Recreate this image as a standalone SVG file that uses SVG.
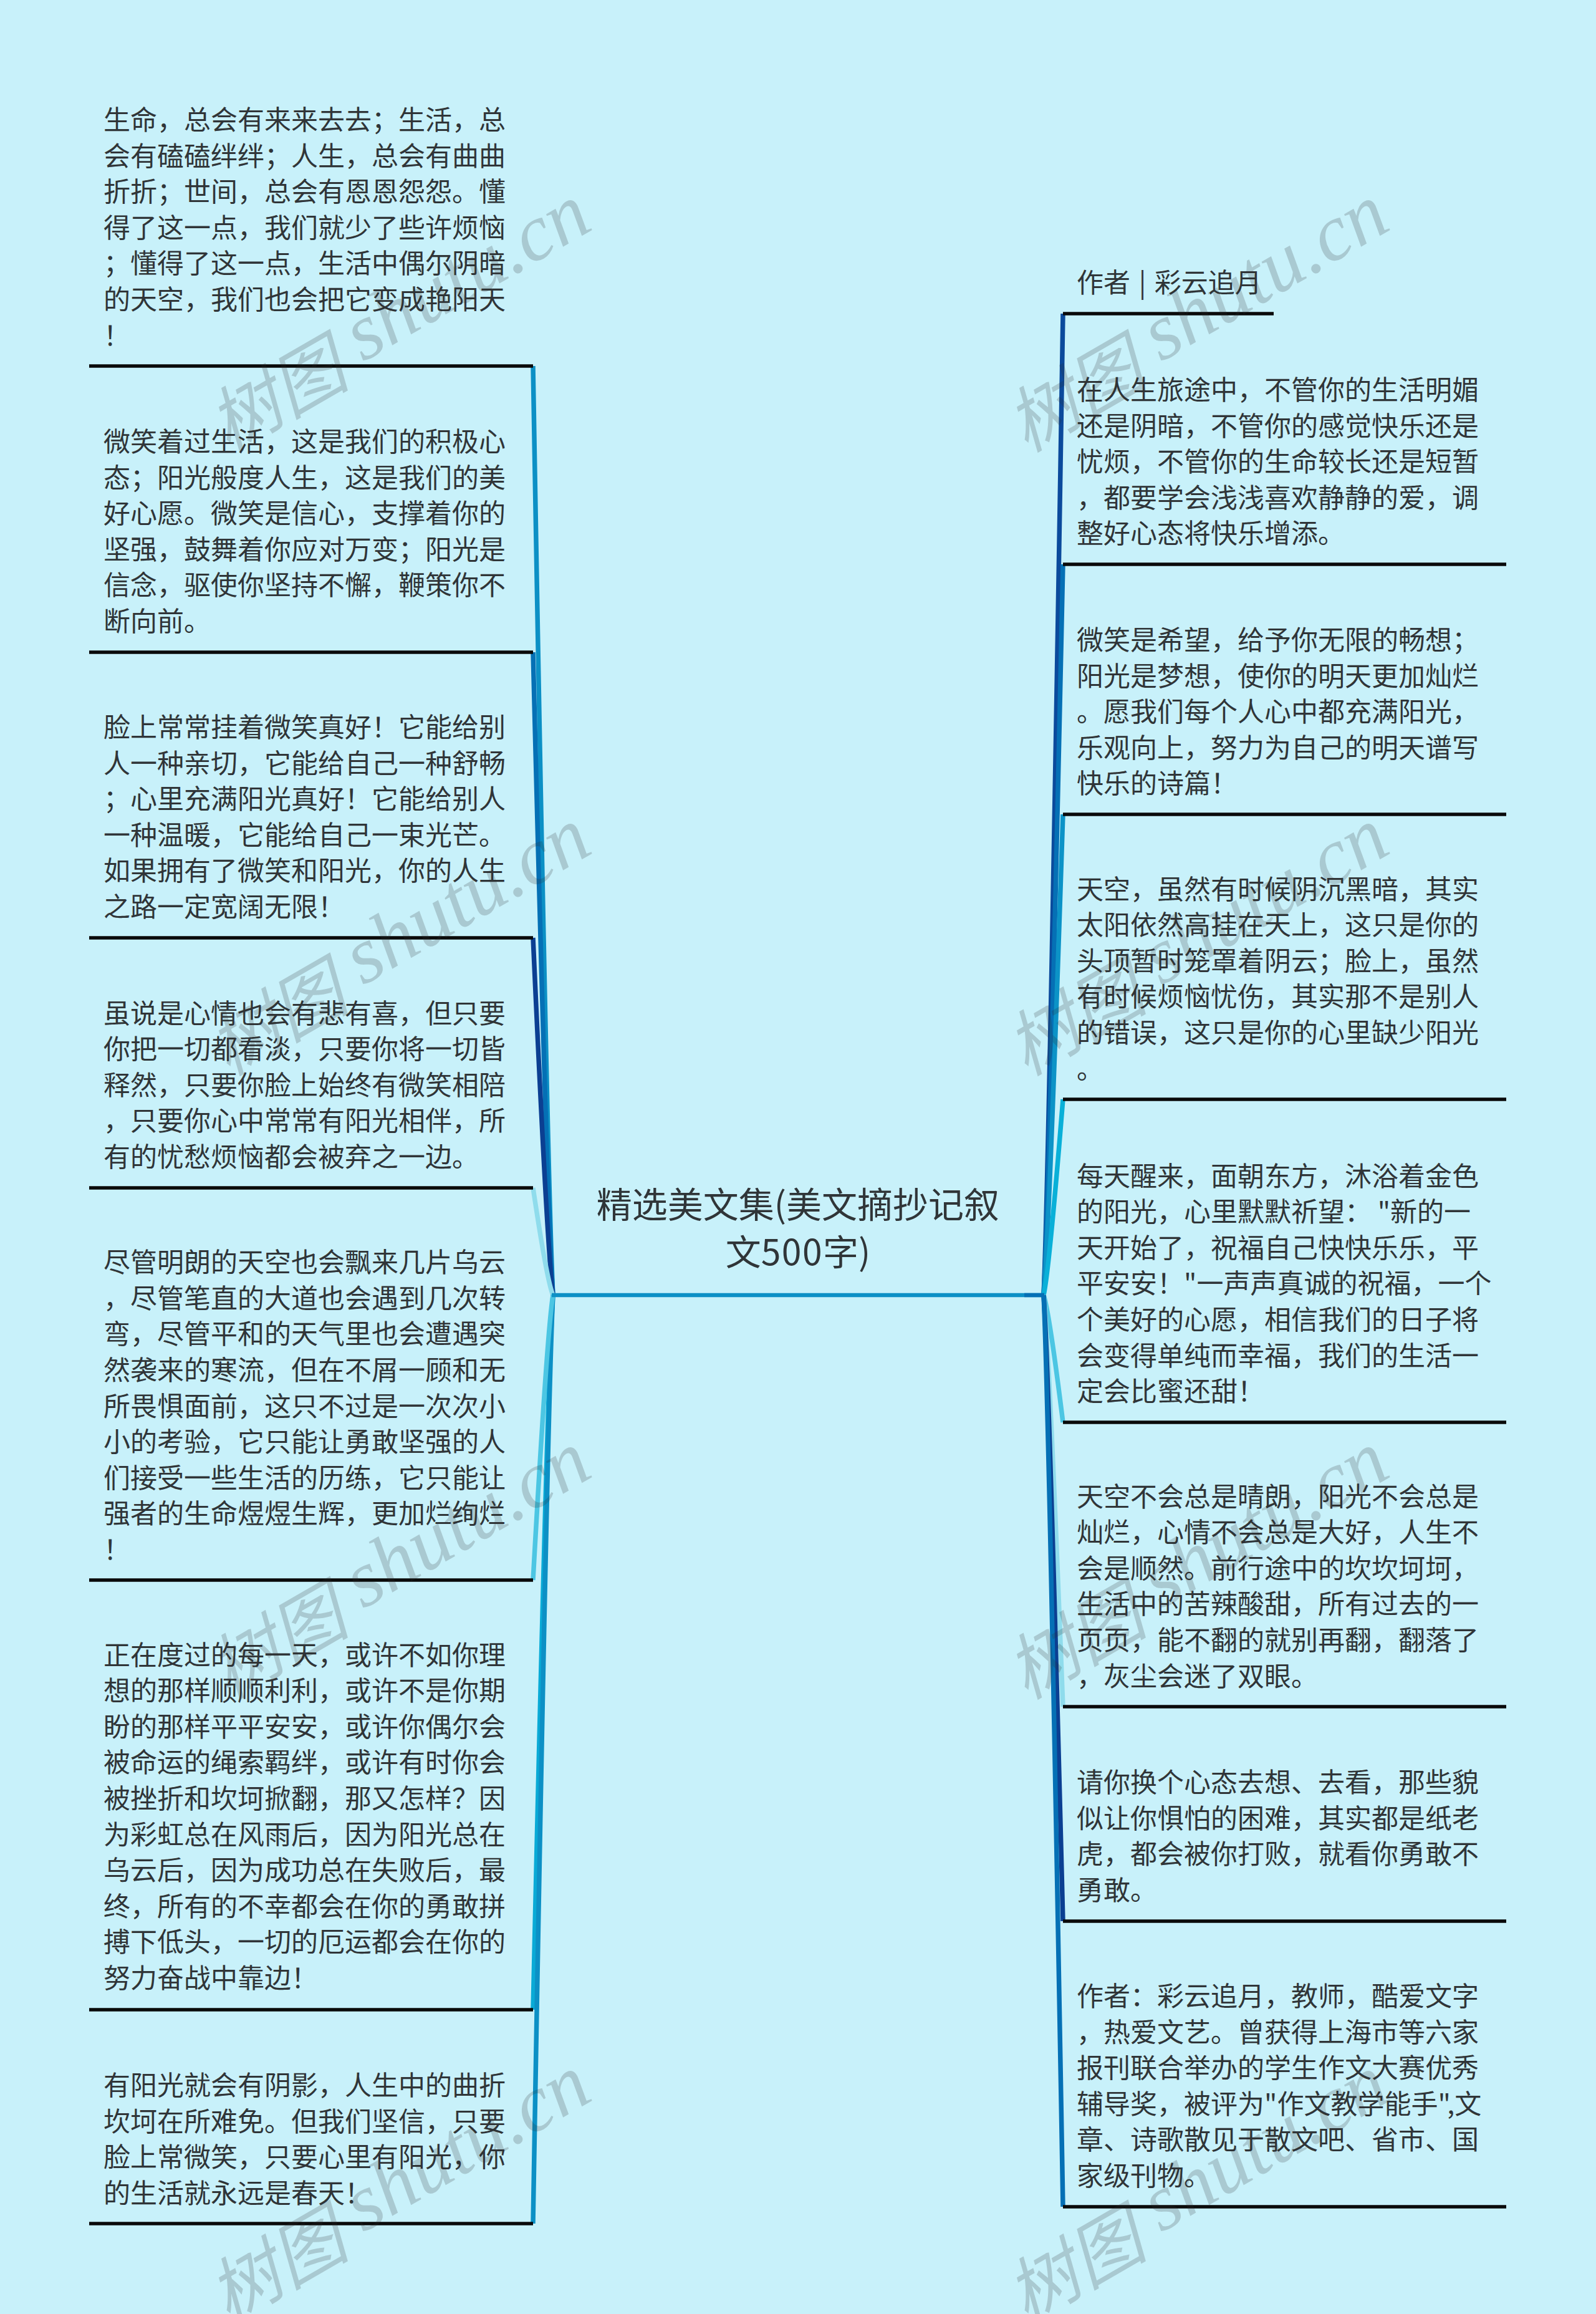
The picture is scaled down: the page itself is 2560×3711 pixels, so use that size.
<svg xmlns="http://www.w3.org/2000/svg" width="2560" height="3711" viewBox="0 0 2560 3711">
<style>
text{font-family:"Noto Sans CJK SC","Liberation Sans",sans-serif;}
.t{font-size:43px;fill:#303538;transform:translateY(-3px);}
.title{font-size:57px;fill:#303538;text-anchor:middle;}
.rule{stroke:#0a0a0a;stroke-width:5.5;fill:none;}
.c{fill:none;stroke-width:7.5;}
.wm{font-family:"Liberation Serif","Noto Sans CJK SC",serif;font-style:italic;font-size:128px;fill:#2e2e2e;fill-opacity:.2;}
.wm .z{font-size:114px;}
</style>
<rect width="2560" height="3711" fill="#c8f1fa"/>
<g id="connectors">
<path class="c" stroke="#0c90c5" d="M855 587Q877.4 1883 887 2077"/>
<path class="c" stroke="#0570b5" d="M855 1046Q877.4 1943 887 2077"/>
<path class="c" stroke="#0b3f92" d="M855 1504Q877.4 2002 887 2077"/>
<path class="c" stroke="#8fdcec" d="M855 1905Q877.4 2055 887 2077"/>
<path class="c" stroke="#09aad6" d="M855 3223Q877.4 2222 887 2077"/>
<path class="c" stroke="#0c90c5" d="M855 3566Q877.4 2271 887 2077"/>
<path class="c" stroke="#4cc6e3" d="M855 2534Q877.4 2136 887 2077"/>
<path class="c" stroke="#0b4a9c" d="M1705 503Q1683 1872 1674 2077"/>
<path class="c" stroke="#0570b5" d="M1705 905Q1683 1925 1674 2077"/>
<path class="c" stroke="#0c93c7" d="M1705 1306Q1683 1977 1674 2077"/>
<path class="c" stroke="#09b0d8" d="M1705 1763Q1683 2036 1674 2077"/>
<path class="c" stroke="#4cc6e3" d="M1705 2281Q1683 2104 1674 2077"/>
<path class="c" stroke="#8fdcec" d="M1705 2737Q1683 2163 1674 2077"/>
<path class="c" stroke="#0b3f92" d="M1705 3081Q1683 2208 1674 2077"/>
<path class="c" stroke="#0570b5" d="M1705 3539Q1683 2268 1674 2077"/>
<path d="M885 2077H1675" stroke="#0c90c5" stroke-width="6.5" fill="none"/>
<path d="M1643 2077H1675" stroke="#0570b5" stroke-width="6.5" fill="none"/>
</g>
<g id="root"><text class="title" x="1280" y="1953">精选美文集(美文摘抄记叙</text><text class="title" x="1280" y="2029">文<tspan letter-spacing="1.5">500</tspan>字)</text></g>
<g id="left-1"><path class="rule" d="M143 587H855"/><text class="t" x="166" y="211">生命，总会有来来去去；生活，总</text><text class="t" x="166" y="268.6">会有磕磕绊绊；人生，总会有曲曲</text><text class="t" x="166" y="326.2">折折；世间，总会有恩恩怨怨。懂</text><text class="t" x="166" y="383.8">得了这一点，我们就少了些许烦恼</text><text class="t" x="166" y="441.4">；懂得了这一点，生活中偶尔阴暗</text><text class="t" x="166" y="499">的天空，我们也会把它变成艳阳天</text><text class="t" x="166" y="556.6">！</text></g>
<g id="left-2"><path class="rule" d="M143 1046H855"/><text class="t" x="166" y="727">微笑着过生活，这是我们的积极心</text><text class="t" x="166" y="784.6">态；阳光般度人生，这是我们的美</text><text class="t" x="166" y="842.2">好心愿。微笑是信心，支撑着你的</text><text class="t" x="166" y="899.8">坚强，鼓舞着你应对万变；阳光是</text><text class="t" x="166" y="957.4">信念，驱使你坚持不懈，鞭策你不</text><text class="t" x="166" y="1015">断向前。</text></g>
<g id="left-3"><path class="rule" d="M143 1504H855"/><text class="t" x="166" y="1185">脸上常常挂着微笑真好！它能给别</text><text class="t" x="166" y="1242.6">人一种亲切，它能给自己一种舒畅</text><text class="t" x="166" y="1300.2">；心里充满阳光真好！它能给别人</text><text class="t" x="166" y="1357.8">一种温暖，它能给自己一束光芒。</text><text class="t" x="166" y="1415.4">如果拥有了微笑和阳光，你的人生</text><text class="t" x="166" y="1473">之路一定宽阔无限！</text></g>
<g id="left-4"><path class="rule" d="M143 1905H855"/><text class="t" x="166" y="1643.6">虽说是心情也会有悲有喜，但只要</text><text class="t" x="166" y="1701.2">你把一切都看淡，只要你将一切皆</text><text class="t" x="166" y="1758.8">释然，只要你脸上始终有微笑相陪</text><text class="t" x="166" y="1816.4">，只要你心中常常有阳光相伴，所</text><text class="t" x="166" y="1874">有的忧愁烦恼都会被弃之一边。</text></g>
<g id="left-5"><path class="rule" d="M143 2534H855"/><text class="t" x="166" y="2043.2">尽管明朗的天空也会飘来几片乌云</text><text class="t" x="166" y="2100.8">，尽管笔直的大道也会遇到几次转</text><text class="t" x="166" y="2158.4">弯，尽管平和的天气里也会遭遇突</text><text class="t" x="166" y="2216">然袭来的寒流，但在不屑一顾和无</text><text class="t" x="166" y="2273.6">所畏惧面前，这只不过是一次次小</text><text class="t" x="166" y="2331.2">小的考验，它只能让勇敢坚强的人</text><text class="t" x="166" y="2388.8">们接受一些生活的历练，它只能让</text><text class="t" x="166" y="2446.4">强者的生命煜煜生辉，更加烂绚烂</text><text class="t" x="166" y="2504">！</text></g>
<g id="left-6"><path class="rule" d="M143 3223H855"/><text class="t" x="166" y="2672.6">正在度过的每一天，或许不如你理</text><text class="t" x="166" y="2730.2">想的那样顺顺利利，或许不是你期</text><text class="t" x="166" y="2787.8">盼的那样平平安安，或许你偶尔会</text><text class="t" x="166" y="2845.4">被命运的绳索羁绊，或许有时你会</text><text class="t" x="166" y="2903">被挫折和坎坷掀翻，那又怎样？因</text><text class="t" x="166" y="2960.6">为彩虹总在风雨后，因为阳光总在</text><text class="t" x="166" y="3018.2">乌云后，因为成功总在失败后，最</text><text class="t" x="166" y="3075.8">终，所有的不幸都会在你的勇敢拼</text><text class="t" x="166" y="3133.4">搏下低头，一切的厄运都会在你的</text><text class="t" x="166" y="3191">努力奋战中靠边！</text></g>
<g id="left-7"><path class="rule" d="M143 3566H855"/><text class="t" x="166" y="3363.2">有阳光就会有阴影，人生中的曲折</text><text class="t" x="166" y="3420.8">坎坷在所难免。但我们坚信，只要</text><text class="t" x="166" y="3478.4">脸上常微笑，只要心里有阳光，你</text><text class="t" x="166" y="3536">的生活就永远是春天！</text></g>
<g id="right-1"><path class="rule" d="M1705 503H2043"/><text class="t" x="1727" y="472" word-spacing="4">作者 | 彩云追月</text></g>
<g id="right-2"><path class="rule" d="M1705 905H2416"/><text class="t" x="1727" y="644">在人生旅途中，不管你的生活明媚</text><text class="t" x="1727" y="701.6">还是阴暗，不管你的感觉快乐还是</text><text class="t" x="1727" y="759.2">忧烦，不管你的生命较长还是短暂</text><text class="t" x="1727" y="816.8">，都要学会浅浅喜欢静静的爱，调</text><text class="t" x="1727" y="874.4">整好心态将快乐增添。</text></g>
<g id="right-3"><path class="rule" d="M1705 1306H2416"/><text class="t" x="1727" y="1045">微笑是希望，给予你无限的畅想；</text><text class="t" x="1727" y="1102.6">阳光是梦想，使你的明天更加灿烂</text><text class="t" x="1727" y="1160.2">。愿我们每个人心中都充满阳光，</text><text class="t" x="1727" y="1217.8">乐观向上，努力为自己的明天谱写</text><text class="t" x="1727" y="1275.4">快乐的诗篇！</text></g>
<g id="right-4"><path class="rule" d="M1705 1763H2416"/><text class="t" x="1727" y="1444.6">天空，虽然有时候阴沉黑暗，其实</text><text class="t" x="1727" y="1502.2">太阳依然高挂在天上，这只是你的</text><text class="t" x="1727" y="1559.8">头顶暂时笼罩着阴云；脸上，虽然</text><text class="t" x="1727" y="1617.4">有时候烦恼忧伤，其实那不是别人</text><text class="t" x="1727" y="1675">的错误，这只是你的心里缺少阳光</text><text class="t" x="1727" y="1732.6">。</text></g>
<g id="right-5"><path class="rule" d="M1705 2281H2416"/><text class="t" x="1727" y="1904.6">每天醒来，面朝东方，沐浴着金色</text><text class="t" x="1727" y="1962.2" xml:space="preserve">的阳光，心里默默祈望： "新的一</text><text class="t" x="1727" y="2019.8">天开始了，祝福自己快快乐乐，平</text><text class="t" x="1727" y="2077.4">平安安！"一声声真诚的祝福，一个</text><text class="t" x="1727" y="2135">个美好的心愿，相信我们的日子将</text><text class="t" x="1727" y="2192.6">会变得单纯而幸福，我们的生活一</text><text class="t" x="1727" y="2250.2">定会比蜜还甜！</text></g>
<g id="right-6"><path class="rule" d="M1705 2737H2416"/><text class="t" x="1727" y="2418.5">天空不会总是晴朗，阳光不会总是</text><text class="t" x="1727" y="2476.1">灿烂，心情不会总是大好，人生不</text><text class="t" x="1727" y="2533.7">会是顺然。前行途中的坎坎坷坷，</text><text class="t" x="1727" y="2591.3">生活中的苦辣酸甜，所有过去的一</text><text class="t" x="1727" y="2648.9">页页，能不翻的就别再翻，翻落了</text><text class="t" x="1727" y="2706.5">，灰尘会迷了双眼。</text></g>
<g id="right-7"><path class="rule" d="M1705 3081H2416"/><text class="t" x="1727" y="2877.2">请你换个心态去想、去看，那些貌</text><text class="t" x="1727" y="2934.8">似让你惧怕的困难，其实都是纸老</text><text class="t" x="1727" y="2992.4">虎，都会被你打败，就看你勇敢不</text><text class="t" x="1727" y="3050">勇敢。</text></g>
<g id="right-8"><path class="rule" d="M1705 3539H2416"/><text class="t" x="1727" y="3220">作者：彩云追月，教师，酷爱文字</text><text class="t" x="1727" y="3277.6">，热爱文艺。曾获得上海市等六家</text><text class="t" x="1727" y="3335.2">报刊联合举办的学生作文大赛优秀</text><text class="t" x="1727" y="3392.8">辅导奖，被评为"作文教学能手",文</text><text class="t" x="1727" y="3450.4">章、诗歌散见于散文吧、省市、国</text><text class="t" x="1727" y="3508">家级刊物。</text></g>
<g id="watermarks">
<text class="wm" transform="translate(357 711) rotate(-30)"><tspan class="z" dy="18">树图</tspan><tspan dy="-18"> shutu.cn</tspan></text>
<text class="wm" transform="translate(357 1711) rotate(-30)"><tspan class="z" dy="18">树图</tspan><tspan dy="-18"> shutu.cn</tspan></text>
<text class="wm" transform="translate(357 2711) rotate(-30)"><tspan class="z" dy="18">树图</tspan><tspan dy="-18"> shutu.cn</tspan></text>
<text class="wm" transform="translate(357 3711) rotate(-30)"><tspan class="z" dy="18">树图</tspan><tspan dy="-18"> shutu.cn</tspan></text>
<text class="wm" transform="translate(1637 711) rotate(-30)"><tspan class="z" dy="18">树图</tspan><tspan dy="-18"> shutu.cn</tspan></text>
<text class="wm" transform="translate(1637 1711) rotate(-30)"><tspan class="z" dy="18">树图</tspan><tspan dy="-18"> shutu.cn</tspan></text>
<text class="wm" transform="translate(1637 2711) rotate(-30)"><tspan class="z" dy="18">树图</tspan><tspan dy="-18"> shutu.cn</tspan></text>
<text class="wm" transform="translate(1637 3711) rotate(-30)"><tspan class="z" dy="18">树图</tspan><tspan dy="-18"> shutu.cn</tspan></text>
</g>
</svg>
